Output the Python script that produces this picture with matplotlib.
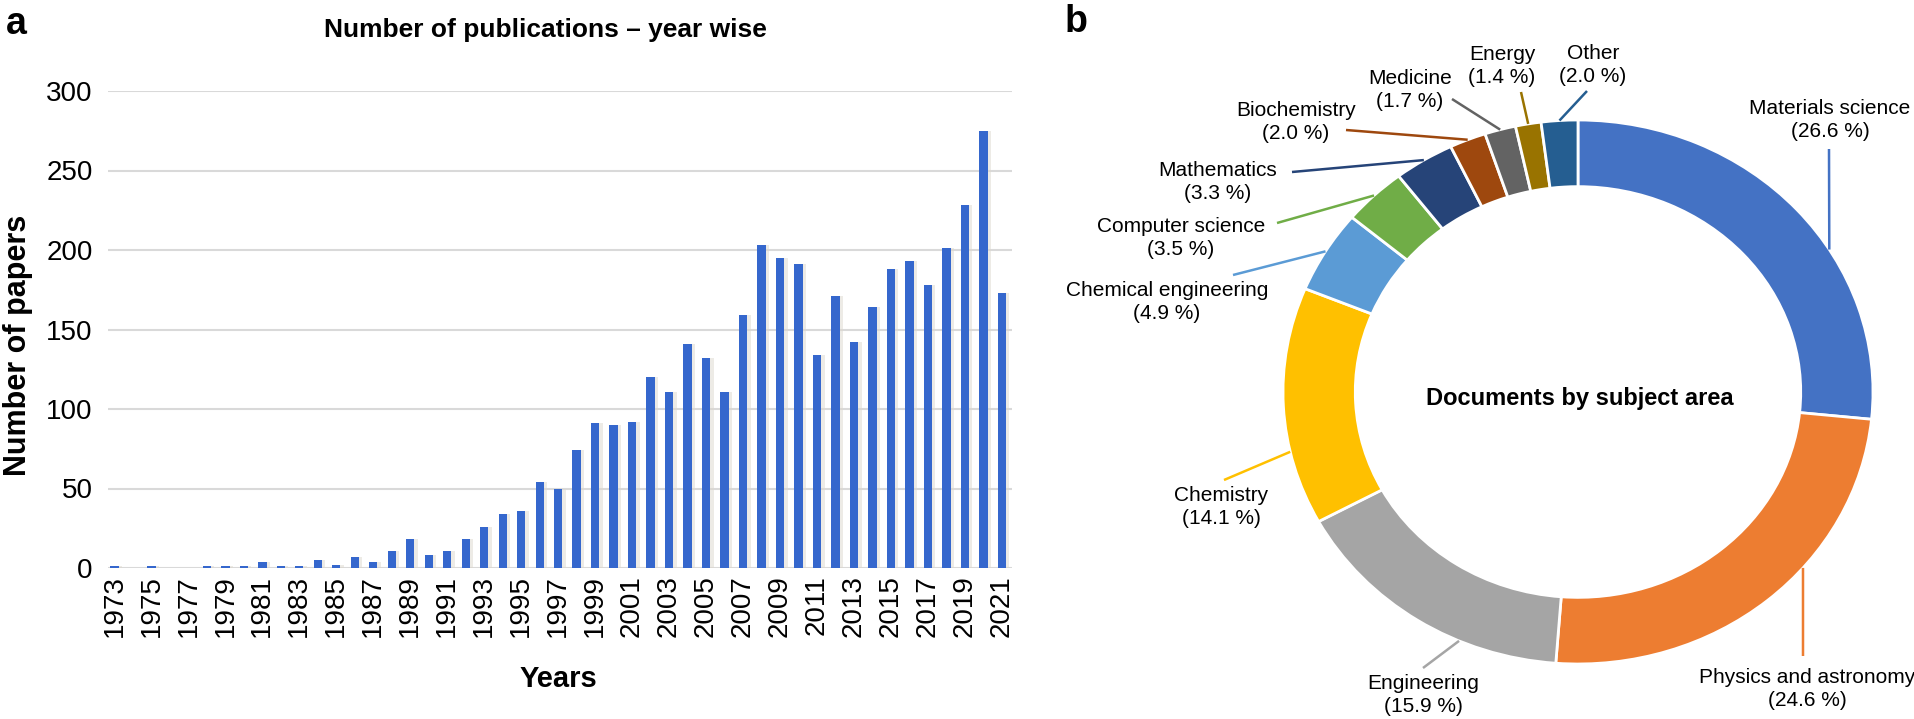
import matplotlib
matplotlib.use('Agg')
import matplotlib.pyplot as plt
import numpy as np

plt.rcParams['font.family'] = ['Liberation Sans', 'DejaVu Sans']

# ---- data: panel a (publications per year) ----
years = list(range(1973, 2022))
papers = [1, 0, 1, 0, 0, 1, 1, 1, 4, 1,
          1, 5, 2, 7, 4, 11, 18, 8, 11, 18,
          26, 34, 36, 54, 50, 74, 91, 90, 92, 120,
          111, 141, 132, 111, 159, 203, 195, 191, 134, 171,
          142, 164, 188, 193, 178, 201, 228, 275, 173]

# ---- data: panel b (documents by subject area, %) ----
subjects = ['Materials science', 'Physics and astronomy', 'Engineering', 'Chemistry',
            'Chemical engineering', 'Computer science', 'Mathematics', 'Biochemistry',
            'Medicine', 'Energy', 'Other']
shares = [26.6, 24.6, 15.9, 14.1, 4.9, 3.5, 3.3, 2.0, 1.7, 1.4, 2.0]
colors = ['#4472C4', '#ED7D31', '#A5A5A5', '#FFC000', '#5B9BD5', '#70AD47',
          '#264478', '#9E480E', '#636363', '#997300', '#255E91']

W, H = 1915, 719
fig = plt.figure(figsize=(W / 100, H / 100), dpi=100)


def fig_box(x0, y0, x1, y1):
    # pixel box (origin top-left) -> figure fraction rect
    return [x0 / W, 1 - y1 / H, (x1 - x0) / W, (y1 - y0) / H]


# ================= panel a =================
ax = fig.add_axes(fig_box(108, 91, 1012, 568))
x = np.arange(len(years))

# soft shadow behind each bar, then the bar itself
ax.bar(x + 0.16, papers, width=0.5, color='#ddd8cf', alpha=0.5, zorder=2)
ax.bar(x, papers, width=0.45, color='#3567cd', zorder=3)

ax.set_xlim(-0.35, len(years) - 0.45)
ax.set_ylim(0, 300)
ax.set_yticks(range(0, 301, 50))
ax.set_xticks(x[::2])
ax.set_xticklabels([str(y) for y in years[::2]], rotation=90)
ax.tick_params(axis='y', length=0, pad=11, labelsize=20)
ax.tick_params(axis='x', length=0, pad=5, labelsize=20)
ax.grid(axis='y', color='#d9d9d9', linewidth=1.5, zorder=0)
ax.set_axisbelow(True)
for s in ax.spines.values():
    s.set_visible(False)

fig.text(545 / W, 1 - 30 / H, 'Number of publications – year wise',
         ha='center', va='center', fontsize=19, fontweight='bold')
fig.text(558 / W, 1 - 679 / H, 'Years', ha='center', va='center',
         fontsize=21, fontweight='bold')
fig.text(18 / W, 1 - 345 / H, 'Number of papers', ha='center', va='center',
         rotation=90, fontsize=22, fontweight='bold')
fig.text(6 / W, 1 - 34 / H, 'a', ha='left', va='baseline', fontsize=27, fontweight='bold')
fig.text(1065 / W, 1 - 32 / H, 'b', ha='left', va='baseline', fontsize=27, fontweight='bold')

# ================= panel b =================
ax2 = fig.add_axes(fig_box(1053, 0, 1915, 719))
ring = 0.245
wedges, _ = ax2.pie(shares, colors=colors, startangle=90, counterclock=False,
                    radius=1, wedgeprops=dict(width=ring, edgecolor='white', linewidth=2))
ax2.set_aspect('auto')
# donut centre at (1578, 392) px, radii 295 x 272 px
cx, cy, rx, ry = 1578, 392, 295, 272
ax2.set_xlim((1053 - cx) / rx, (1915 - cx) / rx)
ax2.set_ylim(-(H - cy) / ry, cy / ry)
ax2.axis('off')


def px2data(px, py):
    return ax2.transData.inverted().transform((px, H - py))


# label layout (pixel positions in the figure)
label_xy = [(1830, 120), (1807, 689), (1423, 695), (1221, 507), (1167, 302),
            (1181, 238), (1218, 182), (1296, 122), (1410, 90), (1502, 66), (1593, 65)]
leader_end = [(1829, 149), (1803, 656), (1423, 668), (1224, 480), (1233, 275),
              (1277, 223), (1292, 172), (1346, 130), (1452, 99), (1521, 92), (1587, 91)]
anchor_frac = [0.61, 0.39, 0.34, 0.31, 0.5, 0.5, 0.5, 0.5, 0.5, 0.5, 0.5]

start = 0.0
for name, share, col, (lx, ly), (ex, ey), fr in zip(subjects, shares, colors,
                                                   label_xy, leader_end, anchor_frac):
    pos = (start + share * fr) / 100.0
    theta = np.deg2rad(90 - 360 * pos)
    ax_, ay_ = np.cos(theta), np.sin(theta)
    bx, by = px2data(ex, ey)
    ax2.plot([ax_, bx], [ay_, by], color=col, linewidth=1.8, solid_capstyle='butt',
             clip_on=False, zorder=1)
    tx, ty = px2data(lx, ly)
    ax2.text(tx, ty, f'{name}\n({share:.1f} %)', ha='center', va='center',
             fontsize=15, linespacing=1.25)
    start += share

tx, ty = px2data(1580, 399)
ax2.text(tx, ty, 'Documents by subject area', ha='center', va='center',
         fontsize=17, fontweight='bold')

fig.savefig('out.png', dpi=100)
